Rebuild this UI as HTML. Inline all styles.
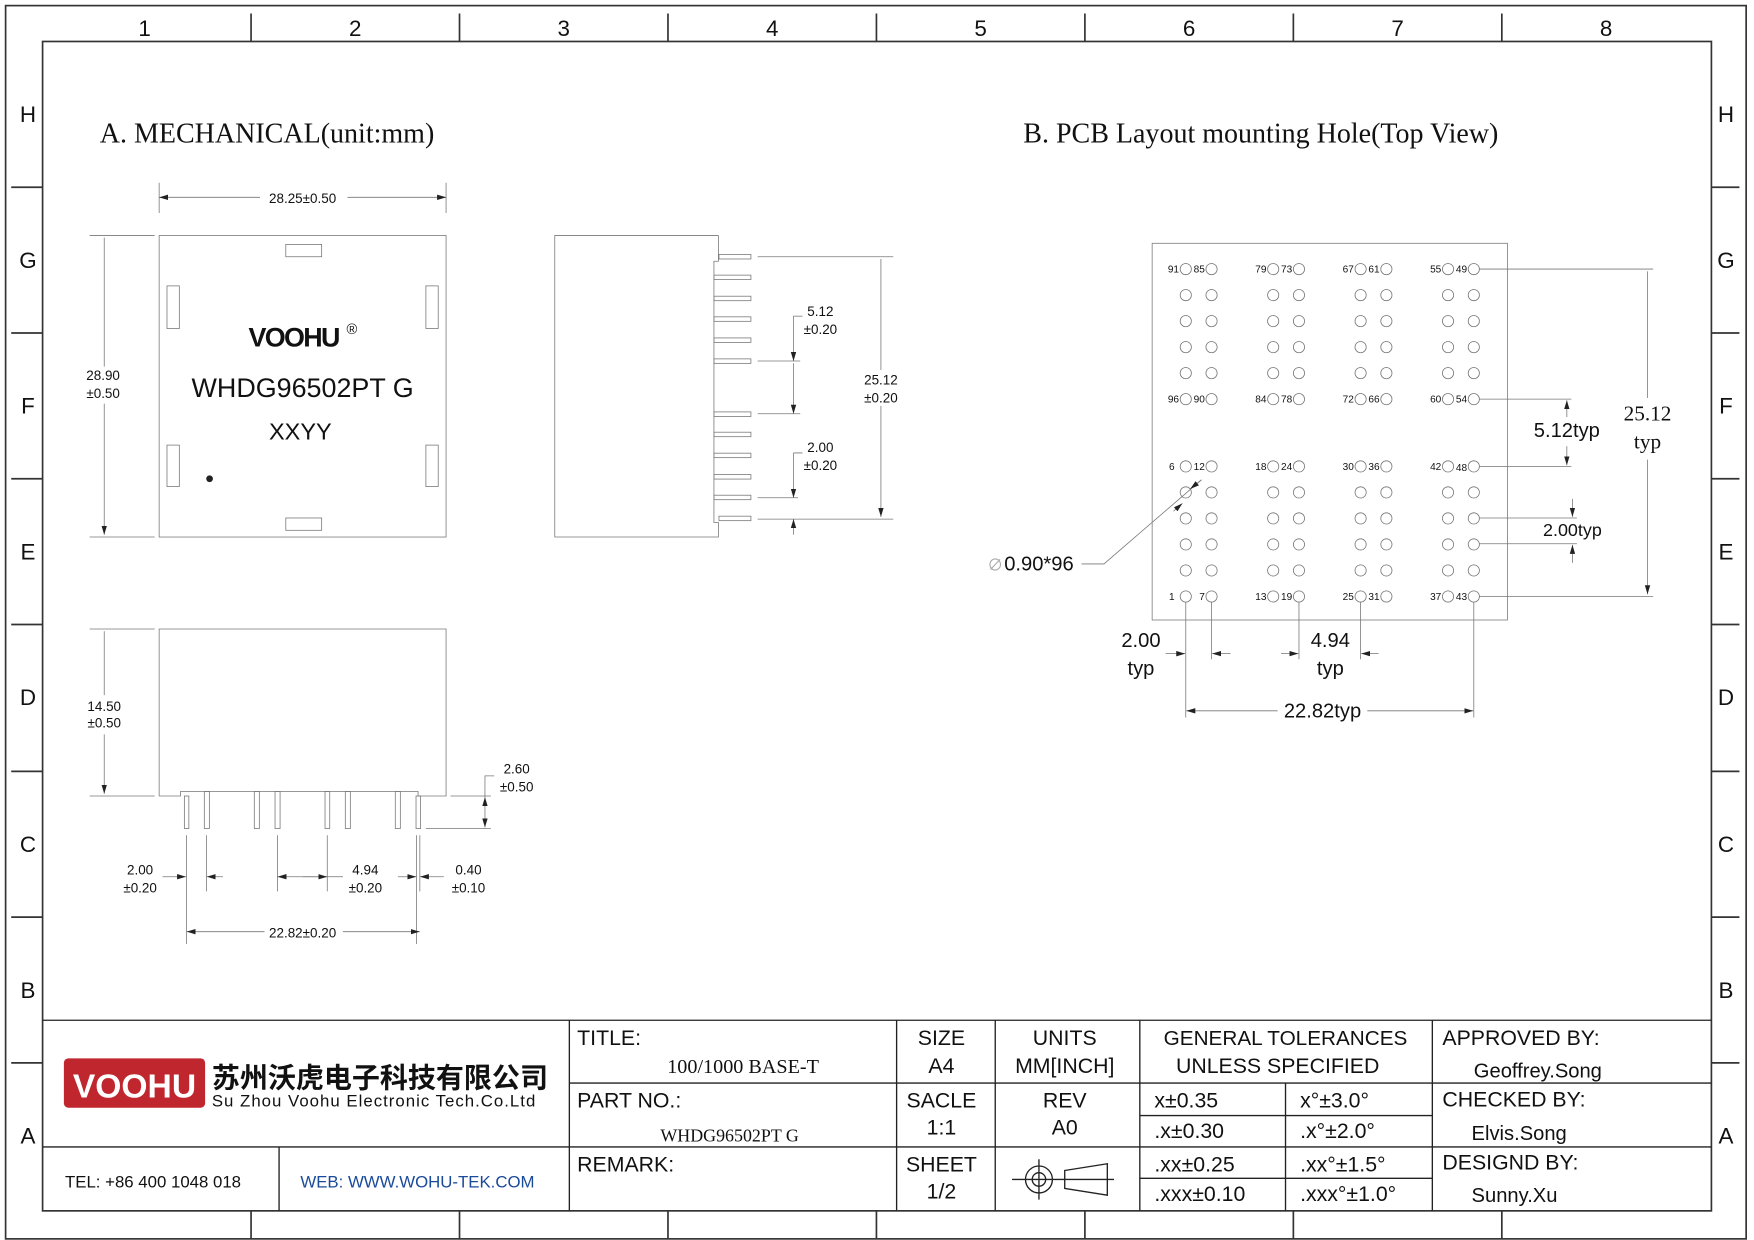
<!DOCTYPE html>
<html><head><meta charset="utf-8"><style>
html,body{margin:0;padding:0;background:#fff;}
svg{display:block;}
text{font-family:"Liberation Sans","Noto Sans CJK SC",sans-serif;fill:#111;}
.serif{font-family:"Liberation Serif","Noto Serif CJK SC",serif;}
.thin{stroke:#777;stroke-width:0.7;fill:none;}
.frm{stroke:#333;stroke-width:1.5;fill:none;}
.blk{stroke:#222;stroke-width:1.2;fill:none;}
</style></head><body>
<svg width="1754" height="1240" viewBox="0 0 1565 1106" preserveAspectRatio="none" xmlns="http://www.w3.org/2000/svg">
<defs>
<marker id="ar" viewBox="0 0 10 6" refX="10" refY="3" markerWidth="8" markerHeight="5" orient="auto-start-reverse" markerUnits="userSpaceOnUse"><path d="M0,0 L10,3 L0,6 z" fill="#222"/></marker>
<g id="col">
<circle cx="0" cy="240" r="5"/><circle cx="0" cy="263.2" r="5"/><circle cx="0" cy="286.4" r="5"/><circle cx="0" cy="309.6" r="5"/><circle cx="0" cy="332.8" r="5"/><circle cx="0" cy="356" r="5"/>
<circle cx="0" cy="416" r="5"/><circle cx="0" cy="439.2" r="5"/><circle cx="0" cy="462.4" r="5"/><circle cx="0" cy="485.6" r="5"/><circle cx="0" cy="508.8" r="5"/><circle cx="0" cy="532" r="5"/>
</g>
</defs>

<rect x="5" y="5" width="1553" height="1100" class="frm" stroke-width="1"/>
<rect x="38" y="37" width="1489" height="1043" class="frm"/>
<g class="frm">
<path d="M224 12V37M410 12V37M596 12V37M782 12V37M968 12V37M1154 12V37M1340 12V37"/>
<path d="M224 1080V1105M410 1080V1105M596 1080V1105M782 1080V1105M968 1080V1105M1154 1080V1105M1340 1080V1105"/>
<path d="M10 167H38M10 297H38M10 427H38M10 557H38M10 688H38M10 818H38M10 948H38"/>
<path d="M1527 167H1552M1527 297H1552M1527 427H1552M1527 557H1552M1527 688H1552M1527 818H1552M1527 948H1552"/>
</g>
<g font-size="20" text-anchor="middle">
<text x="129" y="32">1</text><text x="317" y="32">2</text><text x="503" y="32">3</text><text x="689" y="32">4</text><text x="875" y="32">5</text><text x="1061" y="32">6</text><text x="1247" y="32">7</text><text x="1433" y="32">8</text>
<text x="25" y="109">H</text><text x="25" y="239">G</text><text x="25" y="369">F</text><text x="25" y="499">E</text><text x="25" y="629">D</text><text x="25" y="760">C</text><text x="25" y="890">B</text><text x="25" y="1020">A</text>
<text x="1540" y="109">H</text><text x="1540" y="239">G</text><text x="1540" y="369">F</text><text x="1540" y="499">E</text><text x="1540" y="629">D</text><text x="1540" y="760">C</text><text x="1540" y="890">B</text><text x="1540" y="1020">A</text>
</g>

<text x="89" y="127" class="serif" font-size="25">A. MECHANICAL(unit:mm)</text>
<text x="913" y="127" class="serif" font-size="25">B. PCB Layout mounting Hole(Top View)</text>

<rect x="142" y="210" width="256" height="269" class="thin"/>
<g class="thin">
<rect x="255" y="218" width="32" height="11"/><rect x="255" y="462" width="32" height="11"/>
<rect x="149" y="255" width="11" height="38"/><rect x="149" y="397" width="11" height="37"/>
<rect x="380" y="255" width="11" height="38"/><rect x="380" y="397" width="11" height="37"/>
<path d="M142 163V190M398 163V190M80 210H138M80 479H138"/>
<path d="M142 176H232M310 176H398" marker-start="url(#ar)" marker-end="url(#ar)"/>
<path d="M93 327V212M93 360V477" marker-end="url(#ar)"/>
</g>
<text x="270" y="181" font-size="12" text-anchor="middle">28.25±0.50</text>
<text x="92" y="339" font-size="12" text-anchor="middle">28.90</text>
<text x="92" y="355" font-size="12" text-anchor="middle">±0.50</text>
<text x="262" y="309" font-size="24" font-weight="bold" text-anchor="middle" letter-spacing="-1.5">VOOHU</text>
<text x="314" y="298" font-size="13" text-anchor="middle">®</text>
<text x="270" y="354" font-size="24" text-anchor="middle">WHDG96502PT G</text>
<text x="268" y="392" font-size="21" text-anchor="middle">XXYY</text>
<circle cx="187" cy="427" r="3" fill="#222"/>

<path class="thin" d="M641 210H495V479H641V466H637V233H641V210"/>
<g class="thin">
<rect x="641.5" y="227" width="28.5" height="4"/>
<rect x="637" y="245.4" width="33" height="4"/><rect x="637" y="264.2" width="33" height="4"/><rect x="637" y="282.6" width="33" height="4"/><rect x="637" y="301.4" width="33" height="4"/><rect x="637" y="320.1" width="33" height="4"/>
<rect x="637" y="367.4" width="33" height="4"/><rect x="637" y="385.5" width="33" height="4"/><rect x="637" y="404.2" width="33" height="4"/><rect x="637" y="441.7" width="33" height="4"/>
<rect x="641.5" y="460.4" width="28.5" height="4"/>
<rect x="637" y="423.3" width="33" height="4"/>
<path d="M676 229H797M676 463H797M676 322H714M676 369H714M676 444H712M676 463H712"/>
<path d="M786 330V231M786 362V461" marker-end="url(#ar)"/>
<path d="M708 282H716"/><path d="M708 282V322" marker-end="url(#ar)"/><path d="M708 345V369" marker-end="url(#ar)"/><path d="M708 345V324"/>
<path d="M708 404H716M708 404V444" marker-end="url(#ar)"/><path d="M708 477V463" marker-end="url(#ar)"/>
</g>
<text x="732" y="282" font-size="12" text-anchor="middle">5.12</text>
<text x="732" y="298" font-size="12" text-anchor="middle">±0.20</text>
<text x="786" y="343" font-size="12" text-anchor="middle">25.12</text>
<text x="786" y="359" font-size="12" text-anchor="middle">±0.20</text>
<text x="732" y="403" font-size="12" text-anchor="middle">2.00</text>
<text x="732" y="419" font-size="12" text-anchor="middle">±0.20</text>

<path class="thin" d="M142 710V561H398V710H373V706H161V710H142"/>
<g class="thin">
<rect x="164.5" y="710" width="4" height="29"/><rect x="182.3" y="706" width="4.5" height="33"/>
<rect x="226.9" y="706" width="4.5" height="33"/><rect x="245.4" y="706" width="4.5" height="33"/>
<rect x="290" y="706" width="4.2" height="33"/><rect x="308.1" y="706" width="4.5" height="33"/>
<rect x="352.7" y="706" width="4.5" height="33"/><rect x="371.2" y="710" width="4.1" height="29"/>
<path d="M80 561H138M80 710H138"/>
<path d="M93 620V563M93 655V708" marker-end="url(#ar)"/>
<path d="M166.5 745V842M184.3 745V795M247.5 745V795M292 745V795M371.6 745V842M374.6 745V795"/>
<path d="M145 782H166" marker-end="url(#ar)"/><path d="M199 782H184.5" marker-end="url(#ar)"/>
<path d="M292 782H247.6" marker-end="url(#ar)"/><path d="M270 782H292" marker-end="url(#ar)"/><path d="M292 782H306"/>
<path d="M355 782H371.5" marker-end="url(#ar)"/><path d="M396 782H374.7" marker-end="url(#ar)"/>
<path d="M236 831H166.6" marker-end="url(#ar)"/><path d="M306 831H374.5" marker-end="url(#ar)"/>
<path d="M402 710H438M380 739H438"/>
<path d="M432.7 725V711" marker-end="url(#ar)"/><path d="M432.7 725V738" marker-end="url(#ar)"/>
<path d="M432.7 711V692H441"/>
</g>
<text x="93" y="634" font-size="12" text-anchor="middle">14.50</text>
<text x="93" y="649" font-size="12" text-anchor="middle">±0.50</text>
<text x="461" y="690" font-size="12" text-anchor="middle">2.60</text>
<text x="461" y="706" font-size="12" text-anchor="middle">±0.50</text>
<text x="125" y="780" font-size="12" text-anchor="middle">2.00</text>
<text x="125" y="796" font-size="12" text-anchor="middle">±0.20</text>
<text x="326" y="780" font-size="12" text-anchor="middle">4.94</text>
<text x="326" y="796" font-size="12" text-anchor="middle">±0.20</text>
<text x="418" y="780" font-size="12" text-anchor="middle">0.40</text>
<text x="418" y="796" font-size="12" text-anchor="middle">±0.10</text>
<text x="270" y="836" font-size="12" text-anchor="middle">22.82±0.20</text>

<rect x="1028" y="217" width="317" height="336" class="thin"/>
<g class="thin" stroke="#888">
<use href="#col" x="1058"/><use href="#col" x="1081"/><use href="#col" x="1136"/><use href="#col" x="1159"/>
<use href="#col" x="1214"/><use href="#col" x="1237"/><use href="#col" x="1292"/><use href="#col" x="1315"/>
</g>
<g font-size="9" text-anchor="end">
<text x="1052" y="243">91</text><text x="1075" y="243">85</text><text x="1130" y="243">79</text><text x="1153" y="243">73</text><text x="1208" y="243">67</text><text x="1231" y="243">61</text><text x="1286" y="243">55</text><text x="1309" y="243">49</text>
<text x="1052" y="359">96</text><text x="1075" y="359">90</text><text x="1130" y="359">84</text><text x="1153" y="359">78</text><text x="1208" y="359">72</text><text x="1231" y="359">66</text><text x="1286" y="359">60</text><text x="1309" y="359">54</text>
<text x="1048" y="419">6</text><text x="1075" y="419">12</text><text x="1130" y="419">18</text><text x="1153" y="419">24</text><text x="1208" y="419">30</text><text x="1231" y="419">36</text><text x="1286" y="419">42</text><text x="1309" y="420">48</text>
<text x="1048" y="535">1</text><text x="1075" y="535">7</text><text x="1130" y="535">13</text><text x="1153" y="535">19</text><text x="1208" y="535">25</text><text x="1231" y="535">31</text><text x="1286" y="535">37</text><text x="1309" y="535">43</text>
</g>
<g class="thin">
<path d="M1320 240H1475M1320 532H1475M1320 356H1402M1320 416H1402M1320 462H1407M1320 485H1407"/>
<path d="M1470 355V242M1470 410V530" marker-end="url(#ar)"/>
<path d="M1398 372V357" marker-end="url(#ar)"/><path d="M1398 398V415" marker-end="url(#ar)"/>
<path d="M1403 445V461" marker-end="url(#ar)"/><path d="M1403 502V486" marker-end="url(#ar)"/>
<path d="M1058 537V640M1081 537V588M1159 537V588M1214 537V588M1315 537V640"/>
<path d="M1040 583H1057.5" marker-end="url(#ar)"/><path d="M1098 583H1081.5" marker-end="url(#ar)"/>
<path d="M1143 583H1158.5" marker-end="url(#ar)"/><path d="M1230 583H1214.5" marker-end="url(#ar)"/>
<path d="M1140 634H1058.5" marker-end="url(#ar)"/><path d="M1220 634H1314.5" marker-end="url(#ar)"/>
<path d="M965 503H985L1072 428"/>
<path d="M1047 456L1055 449" marker-end="url(#ar)"/><path d="M1072 428L1062 436" marker-end="url(#ar)"/>
</g>
<text x="1470" y="375" class="serif" font-size="19" text-anchor="middle">25.12</text>
<text x="1470" y="400" class="serif" font-size="19" text-anchor="middle">typ</text>
<text x="1398" y="390" font-size="18" text-anchor="middle">5.12typ</text>
<text x="1403" y="478" font-size="16" text-anchor="middle">2.00typ</text>
<text x="1018" y="577" font-size="18" text-anchor="middle">2.00</text>
<text x="1018" y="602" font-size="18" text-anchor="middle">typ</text>
<text x="1187" y="577" font-size="18" text-anchor="middle">4.94</text>
<text x="1187" y="602" font-size="18" text-anchor="middle">typ</text>
<text x="1180" y="640" font-size="18" text-anchor="middle">22.82typ</text>
<text x="881" y="509" font-size="14" style="fill:#aaa">∅</text>
<text x="896" y="509" font-size="18">0.90*96</text>

<g class="blk">
<path d="M38 910H1527M508 966H1527M38 1023H1527M1017 995H1278M1017 1051H1278"/>
<path d="M508 910V1080M800 910V1080M888 910V1080M1017 910V1080M1278 910V1080M1147 966V1080M249 1023V1080"/>
</g>
<g font-size="19">
<text x="515" y="932">TITLE:</text>
<text x="515" y="988">PART NO.:</text>
<text x="515" y="1045">REMARK:</text>
<text x="663" y="957" class="serif" font-size="18" text-anchor="middle">100/1000 BASE-T</text>
<text x="651" y="1018" class="serif" font-size="16" text-anchor="middle">WHDG96502PT G</text>
<text x="840" y="932" text-anchor="middle">SIZE</text><text x="840" y="957" text-anchor="middle">A4</text>
<text x="840" y="988" text-anchor="middle">SACLE</text><text x="840" y="1012" text-anchor="middle">1:1</text>
<text x="840" y="1045" text-anchor="middle">SHEET</text><text x="840" y="1069" text-anchor="middle">1/2</text>
<text x="950" y="932" text-anchor="middle">UNITS</text><text x="950" y="957" text-anchor="middle">MM[INCH]</text>
<text x="950" y="988" text-anchor="middle">REV</text><text x="950" y="1012" text-anchor="middle">A0</text>
<text x="1147" y="932" text-anchor="middle" font-size="18.5">GENERAL TOLERANCES</text><text x="1140" y="957" text-anchor="middle">UNLESS SPECIFIED</text>
<text x="1030" y="988">x±0.35</text><text x="1160" y="988">x°±3.0°</text>
<text x="1030" y="1015">.x±0.30</text><text x="1160" y="1015">.x°±2.0°</text>
<text x="1030" y="1045">.xx±0.25</text><text x="1160" y="1045">.xx°±1.5°</text>
<text x="1030" y="1071">.xxx±0.10</text><text x="1160" y="1071">.xxx°±1.0°</text>
<text x="1287" y="932">APPROVED BY:</text><text x="1315" y="961" font-size="18">Geoffrey.Song</text>
<text x="1287" y="987">CHECKED BY:</text><text x="1313" y="1017" font-size="18">Elvis.Song</text>
<text x="1287" y="1043">DESIGND BY:</text><text x="1313" y="1072" font-size="18">Sunny.Xu</text>
</g>
<g class="blk">
<circle cx="927" cy="1052" r="12"/><circle cx="927" cy="1052" r="6"/>
<path d="M903 1052H994M927 1034V1070M950 1044L988 1038V1066L950 1060Z"/>
</g>
<rect x="57" y="944" width="126" height="44" rx="4" fill="#c0262d"/>
<text x="120" y="979" font-size="30" font-weight="bold" text-anchor="middle" style="fill:#fff">VOOHU</text>
<text x="189" y="970" font-size="25" font-weight="bold" letter-spacing="0">苏州沃虎电子科技有限公司</text>
<text x="189" y="987" font-size="15" letter-spacing="0.9">Su Zhou Voohu Electronic Tech.Co.Ltd</text>
<text x="58" y="1059" font-size="15">TEL: +86 400 1048 018</text>
<text x="268" y="1059" font-size="15" style="fill:#1a4a9a">WEB: WWW.WOHU-TEK.COM</text>
</svg>
</body></html>
